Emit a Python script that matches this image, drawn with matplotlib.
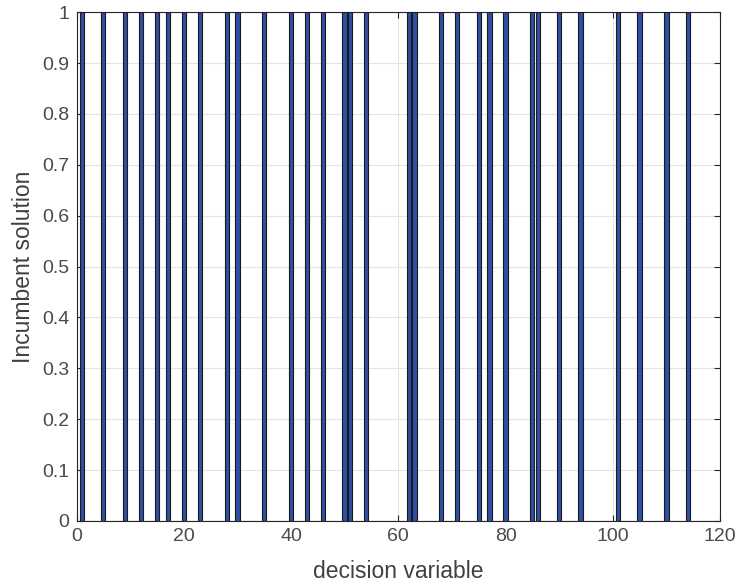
import numpy as np
import matplotlib
matplotlib.use('Agg')
import matplotlib.pyplot as plt

# decision variables that are 1 in the incumbent solution (the rest are 0)
n_vars = 119
selected = [1, 5, 9, 12, 15, 17, 20, 23, 28, 30, 35, 40, 43, 46, 50, 51, 54,
            62, 63, 68, 71, 75, 77, 80, 85, 86, 90, 94, 101, 105, 110, 114]
x_ticks = [0, 20, 40, 60, 80, 100, 120]
y_ticks = [0, 0.1, 0.2, 0.3, 0.4, 0.5, 0.6, 0.7, 0.8, 0.9, 1]
y_labels = ['0', '0.1', '0.2', '0.3', '0.4', '0.5', '0.6', '0.7', '0.8', '0.9', '1']

idx = np.arange(1, n_vars + 1)
vals = np.isin(idx, selected).astype(float)

plt.rcParams['font.family'] = ['Liberation Sans', 'DejaVu Sans']
fig = plt.figure(figsize=(7.4, 5.84), dpi=100)
ax = fig.add_axes([0.1034, 0.108, 0.8696, 0.871])

ax.bar(idx, vals, width=0.8, color='#2f50a4', edgecolor='#1a1a1a', linewidth=0.8, zorder=3)

ax.set_xlim(0, 120)
ax.set_ylim(0, 1)
ax.set_xticks(x_ticks)
ax.set_yticks(y_ticks)
ax.set_yticklabels(y_labels)
ax.grid(True, color='#e3e3e3', linewidth=0.8, zorder=0)
ax.tick_params(direction='in', labelsize=14, colors='#262626', labelcolor='#4a4a4a',
               length=4, pad=5, top=True, right=True, labeltop=False, labelright=False)
for s in ax.spines.values():
    s.set_color('#262626')
    s.set_linewidth(0.8)

ax.set_xlabel('decision variable', fontsize=16.5, color='#404040', labelpad=11)
ax.set_ylabel('Incumbent solution', fontsize=16.5, color='#404040', labelpad=5)

fig.savefig('out.png', dpi=100)
